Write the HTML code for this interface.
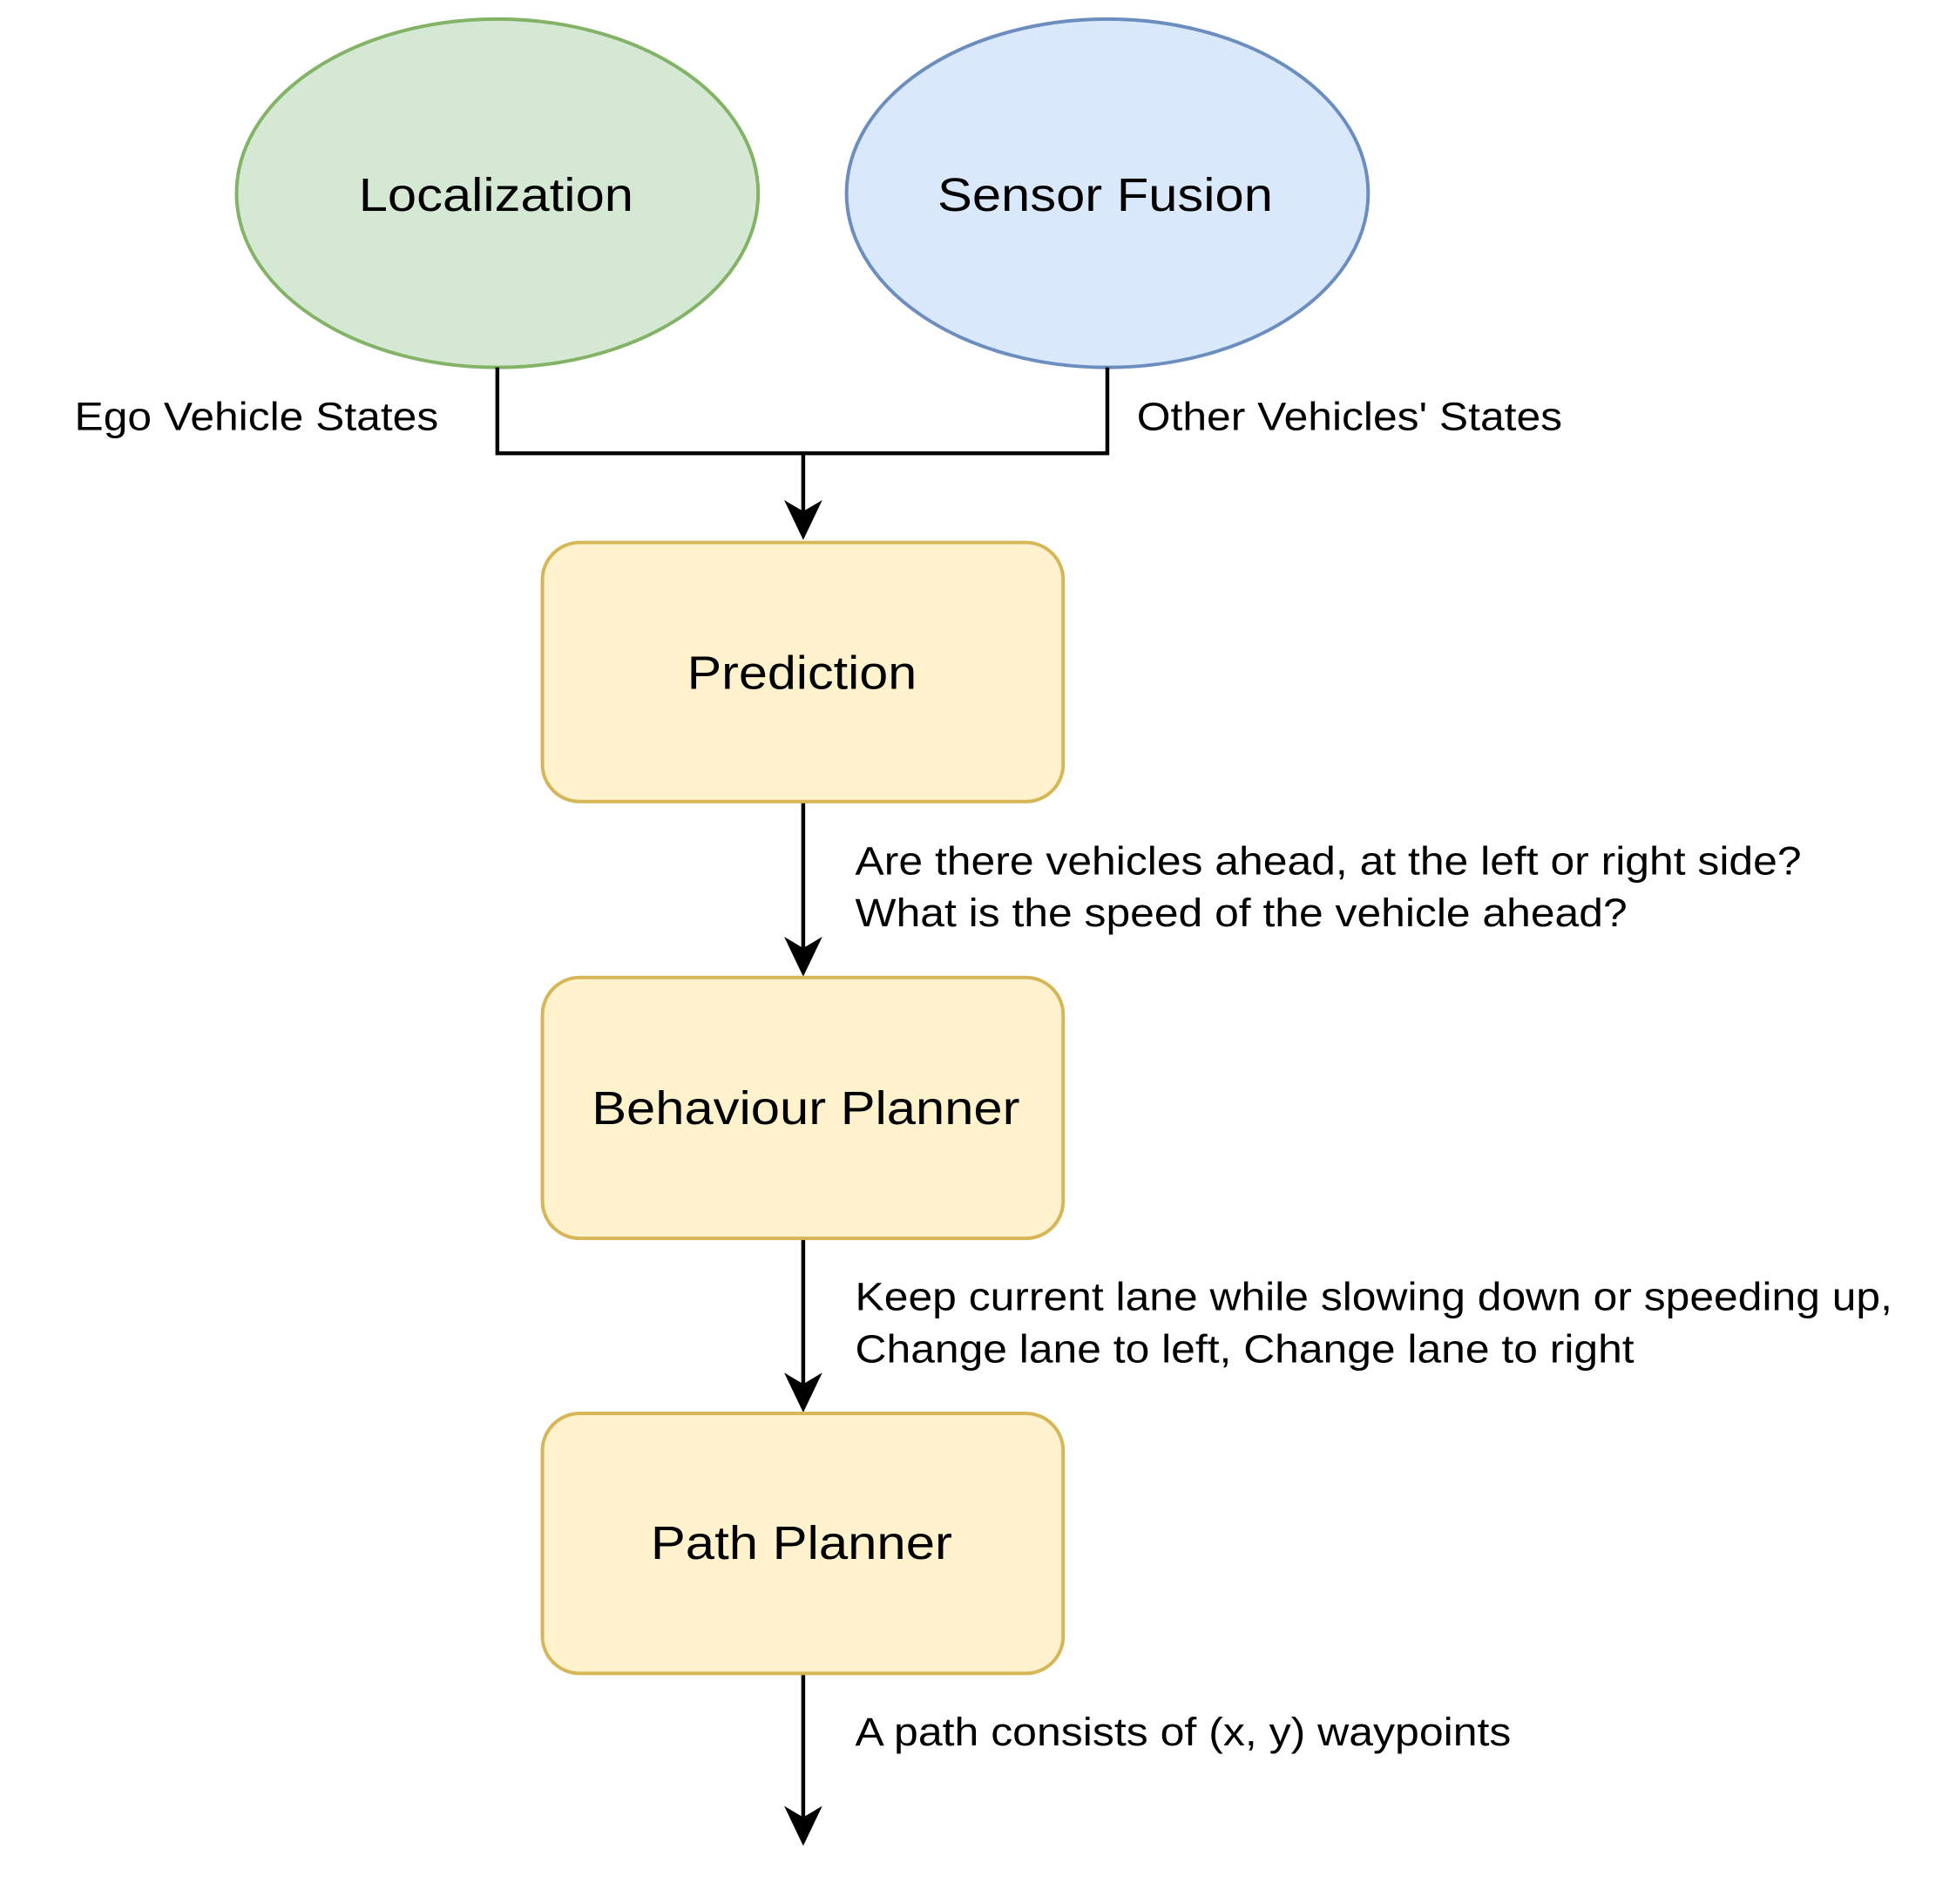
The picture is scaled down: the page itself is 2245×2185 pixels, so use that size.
<!DOCTYPE html>
<html><head><meta charset="utf-8"><style>html,body{margin:0;padding:0;background:#fff}svg{display:block}</style></head>
<body>
<svg width="2245" height="2185" viewBox="0 0 2245 2185" xmlns="http://www.w3.org/2000/svg" font-family="Liberation Sans, Helvetica, Arial, sans-serif">
<rect width="2245" height="2185" fill="#fff"/>
<g transform="scale(0.9945)">
<ellipse cx="574" cy="223" rx="301" ry="201" fill="#d5e8d4" stroke="#82b366" stroke-width="4"/>
<ellipse cx="1278" cy="223" rx="301" ry="201" fill="#dae8fc" stroke="#6c8ebf" stroke-width="4"/>
<g fill="none" stroke="#000" stroke-width="4.5">
<polyline points="574,424 574,523 1278,523 1278,424"/>
<line x1="927" y1="523" x2="927" y2="595"/>
<line x1="927" y1="926" x2="927" y2="1100"/>
<line x1="927" y1="1430" x2="927" y2="1603"/>
<line x1="927" y1="1932" x2="927" y2="2103"/>
</g>
<g fill="#000">
<path d="M927,623 L905,577 L927,590 L949,577 Z"/>
<path d="M927,1127 L905,1081 L927,1094 L949,1081 Z"/>
<path d="M927,1630 L905,1584 L927,1597 L949,1584 Z"/>
<path d="M927,2130 L905,2084 L927,2097 L949,2084 Z"/>
</g>
<g fill="#fff2cc" stroke="#d6b656" stroke-width="4">
<rect x="626" y="626" width="601" height="299" rx="43"/>
<rect x="626" y="1128" width="601" height="301" rx="43"/>
<rect x="626" y="1631" width="601" height="300" rx="43"/>
</g>
<g font-size="54" fill="#000" dominant-baseline="central">
<text x="414" y="225" textLength="317" lengthAdjust="spacingAndGlyphs">Localization</text>
<text x="1082" y="225" textLength="387" lengthAdjust="spacingAndGlyphs">Sensor Fusion</text>
<text x="793" y="777" textLength="265" lengthAdjust="spacingAndGlyphs">Prediction</text>
<text x="683" y="1279" textLength="494" lengthAdjust="spacingAndGlyphs">Behaviour Planner</text>
<text x="751" y="1781" textLength="348" lengthAdjust="spacingAndGlyphs">Path Planner</text>
</g>
<g font-size="46" fill="#000">
<text x="86" y="496" textLength="420" lengthAdjust="spacingAndGlyphs">Ego Vehicle States</text>
<text x="1312" y="496" textLength="491" lengthAdjust="spacingAndGlyphs">Other Vehicles' States</text>
<text x="987" y="1009" textLength="1092" lengthAdjust="spacingAndGlyphs">Are there vehicles ahead, at the left or right side?</text>
<text x="987" y="1069" textLength="891" lengthAdjust="spacingAndGlyphs">What is the speed of the vehicle ahead?</text>
<text x="987" y="1512" textLength="1197" lengthAdjust="spacingAndGlyphs">Keep current lane while slowing down or speeding up,</text>
<text x="987" y="1572" textLength="899" lengthAdjust="spacingAndGlyphs">Change lane to left, Change lane to right</text>
<text x="987" y="2014" textLength="757" lengthAdjust="spacingAndGlyphs">A path consists of (x, y) waypoints</text>
</g>
</g>
</svg>
</body></html>
